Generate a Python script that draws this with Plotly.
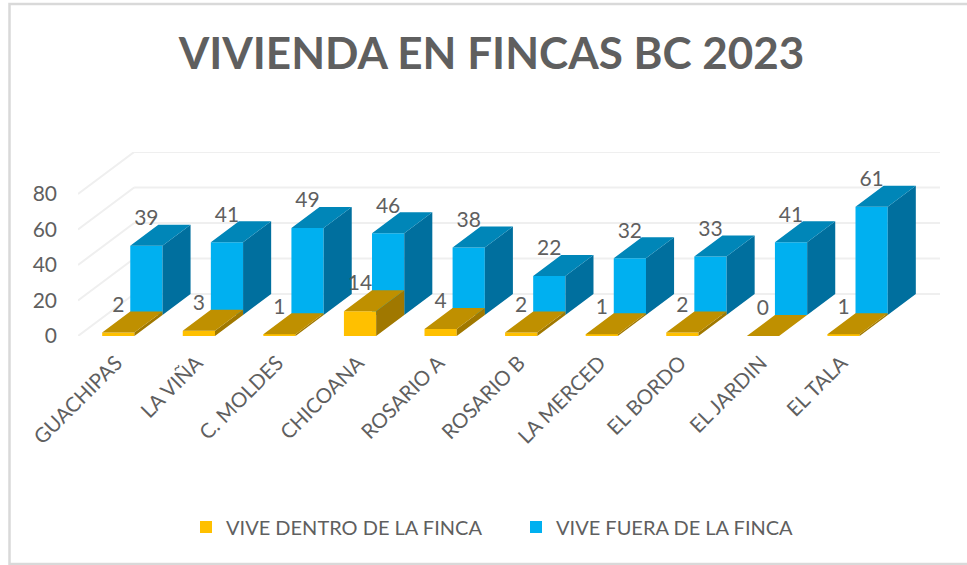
import plotly.graph_objects as go

categories = ["GUACHIPAS", "LA VIÑA", "C. MOLDES", "CHICOANA", "ROSARIO A",
              "ROSARIO B", "LA MERCED", "EL BORDO", "EL JARDIN", "EL TALA"]
dentro = [2, 3, 1, 14, 4, 2, 1, 2, 0, 1]
fuera = [39, 41, 49, 46, 38, 22, 32, 33, 41, 61]
grid_values = [0, 20, 40, 60, 80]

FONT = "Lato, Carlito, sans-serif"
TEXT = "#5F5F5F"
DX, DY = 0.697, 23.66      # oblique depth of the whole box, in axis units
BAR_W = 0.40
LABEL_UP = 14.6


def faces(values, d0, d1):
    """Side and top polygons of the oblique boxes between depths d0 and d1."""
    sx, sy, tx, ty = [], [], [], []
    for i, v in enumerate(values):
        l = i - BAR_W / 2 + d0 * DX
        r = i + BAR_W / 2 + d0 * DX
        bx, by = (d1 - d0) * DX, (d1 - d0) * DY
        base = d0 * DY
        sx += [r, r + bx, r + bx, r, r, None]
        sy += [base, base + by, base + v + by, base + v, base, None]
        tx += [l, r, r + bx, l + bx, l, None]
        ty += [base + v, base + v, base + v + by, base + v + by, base + v, None]
    return sx, sy, tx, ty


def poly(x, y, color):
    return go.Scatter(x=x, y=y, mode="lines", fill="toself", fillcolor=color,
                      line=dict(width=0, color=color), hoverinfo="skip", showlegend=False)


fig = go.Figure()
idx = list(range(len(categories)))

fig.add_trace(go.Bar(name="VIVE FUERA DE LA FINCA", x=[i + 0.5 * DX for i in idx], y=fuera,
                     base=0.5 * DY, width=BAR_W, legendrank=2,
                     marker=dict(color="#00B0F0", line=dict(width=0))))
fig.add_trace(go.Bar(name="VIVE DENTRO DE LA FINCA", x=idx, y=dentro, base=0, width=BAR_W,
                     legendrank=1, marker=dict(color="#FFC000", line=dict(width=0))))

bsx, bsy, btx, bty = faces(fuera, 0.5, 1.0)
fig.add_trace(poly(bsx, bsy, "#006F9E"))
fig.add_trace(poly(btx, bty, "#0086B8"))
ysx, ysy, ytx, yty = faces(dentro, 0.0, 0.5)
fig.add_trace(poly(ysx, ysy, "#A07800"))
fig.add_trace(poly(ytx, yty, "#BF9000"))

fig.add_trace(go.Scatter(x=idx, y=[v + LABEL_UP for v in dentro], text=[str(v) for v in dentro],
                         mode="text", textposition="middle center", showlegend=False, hoverinfo="skip",
                         textfont=dict(family=FONT, size=21, color=TEXT)))
fig.add_trace(go.Scatter(x=[i + 0.5 * DX for i in idx], y=[v + 0.5 * DY + LABEL_UP for v in fuera],
                         text=[str(v) for v in fuera], mode="text", textposition="middle center",
                         showlegend=False, hoverinfo="skip",
                         textfont=dict(family=FONT, size=21, color=TEXT)))

x_left, x_right = -0.5, len(categories) - 0.5 + DX
shapes = []
for g in grid_values:
    shapes.append(dict(type="line", xref="x", yref="y", layer="below", x0=x_left, y0=g,
                       x1=x_left + DX, y1=g + DY, line=dict(color="#EFEFEF", width=2)))
    shapes.append(dict(type="line", xref="x", yref="y", layer="below", x0=x_left + DX, y0=g + DY,
                       x1=x_right, y1=g + DY, line=dict(color="#EFEFEF", width=2)))
# chart frame: left, top and bottom edges, the right edge lies off the page
shapes.append(dict(type="rect", xref="paper", yref="paper", layer="below",
                   x0=(9.5 - 78) / 862, x1=(975 - 78) / 862,
                   y0=(336 - 564) / 184, y1=(336 - 4) / 184,
                   line=dict(color="#D9D9D9", width=2.5)))

fig.update_layout(
    width=967, height=565,
    margin=dict(l=78, r=27, t=152, b=229),
    paper_bgcolor="white", plot_bgcolor="rgba(0,0,0,0)",
    barmode="overlay",
    title=dict(text="<b>VIVIENDA EN FINCAS BC 2023</b>", x=491.5 / 967, xanchor="center", xref="container",
               y=1 - 54 / 565, yref="container", yanchor="middle",
               font=dict(family=FONT, size=44, color=TEXT)),
    xaxis=dict(range=[x_left, x_right], tickvals=idx, ticktext=categories, tickangle=-45,
               showgrid=False, zeroline=False, showline=False, ticks="", ticklabelstandoff=10,
               ticklabelshift=-2, tickfont=dict(family=FONT, size=20.5, color=TEXT)),
    yaxis=dict(range=[0, 80 + DY], tickvals=grid_values, showgrid=False, zeroline=False,
               showline=False, ticks="", ticklabelstandoff=20,
               tickfont=dict(family=FONT, size=21, color=TEXT)),
    legend=dict(orientation="h", x=(186 - 78) / 862, xanchor="left", y=(336 - 527) / 184, yanchor="middle",
                entrywidth=285, entrywidthmode="pixels", bgcolor="rgba(0,0,0,0)",
                font=dict(family=FONT, size=20, color=TEXT), itemclick=False, itemdoubleclick=False),
    shapes=shapes,
    showlegend=True,
)
fig.write_html("out.html", config={"displayModeBar": False},
               post_script="document.body.style.margin='0';")
